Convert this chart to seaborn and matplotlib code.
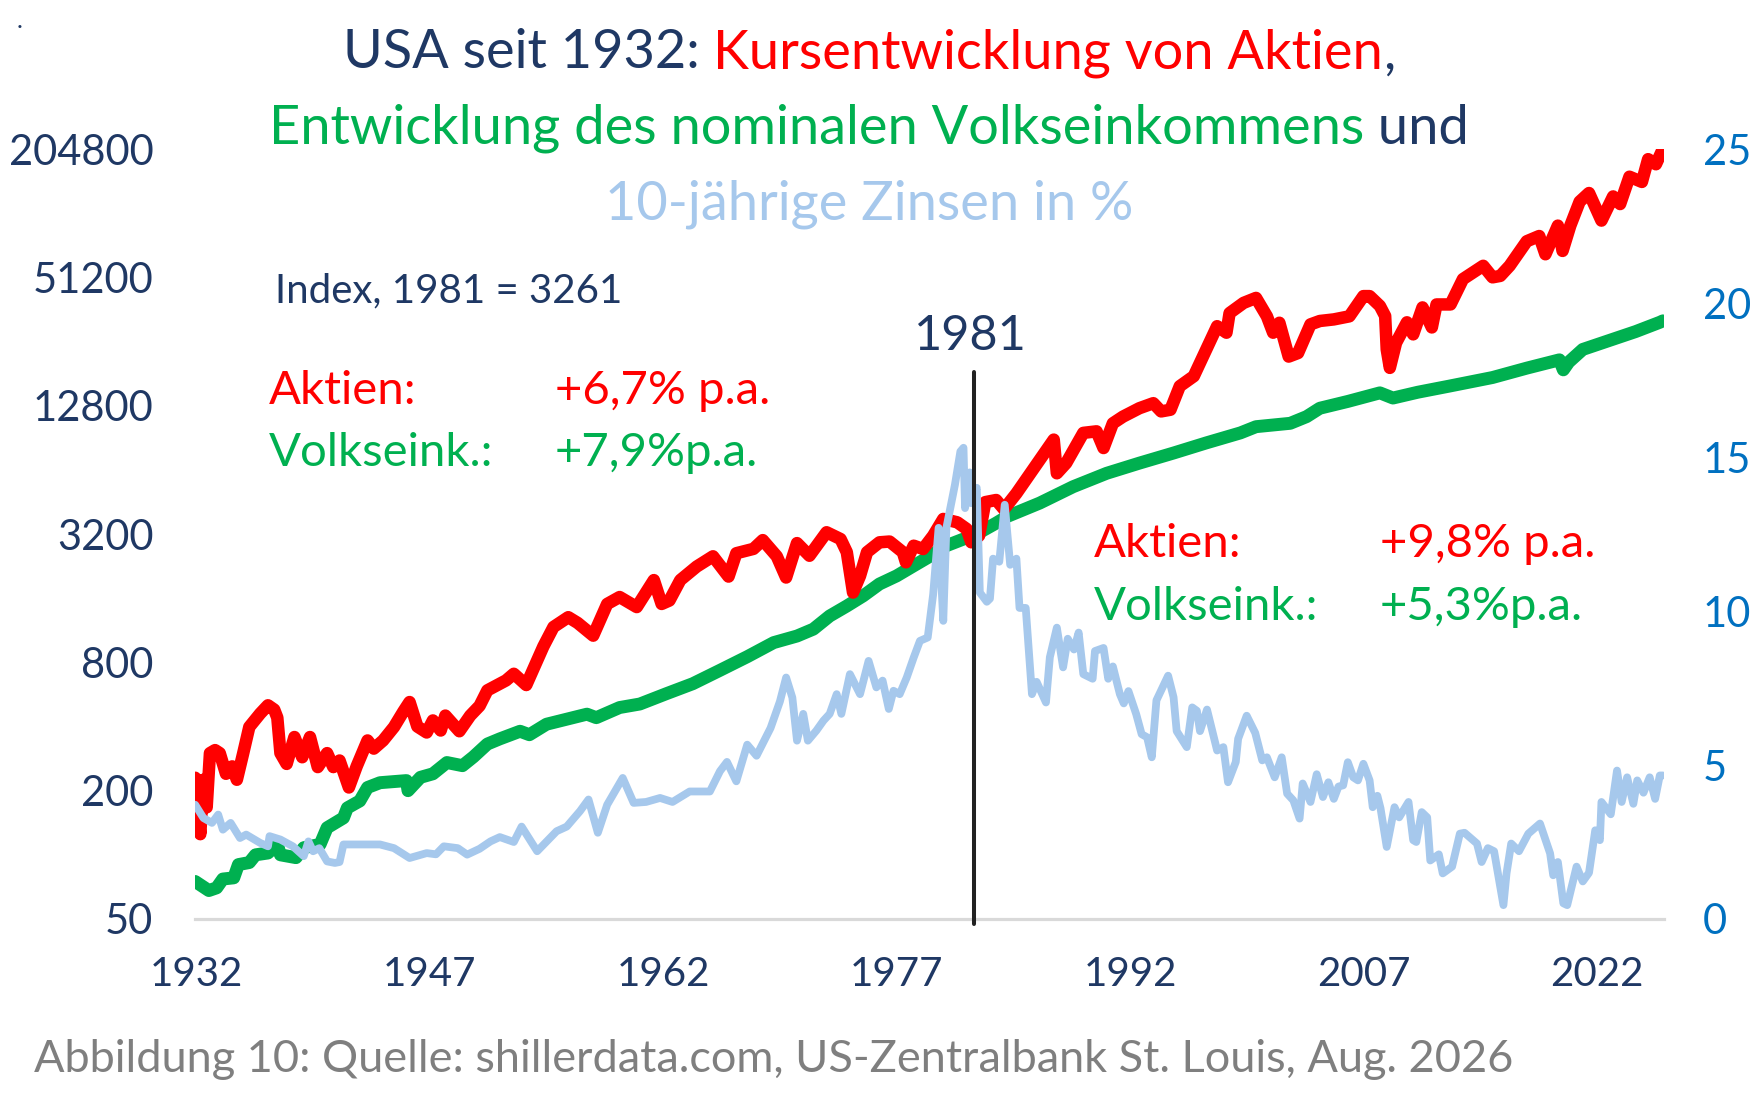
import matplotlib
matplotlib.use("Agg")
import matplotlib.pyplot as plt
import seaborn as sns
import pandas as pd

# ---------------- data ----------------
stock_years = [1931.92, 1932.05, 1932.25, 1932.45, 1932.66, 1932.87, 1933.2, 1933.5, 1933.9, 1934.3,
               1934.6, 1935.0, 1935.4, 1936.1, 1936.6, 1937.0, 1937.2, 1937.4, 1937.8, 1938.3,
               1938.8, 1939.3, 1939.8, 1940.4, 1940.8, 1941.2, 1941.8, 1942.3, 1943.0, 1943.4,
               1944.0, 1944.7, 1945.3, 1945.7, 1946.2, 1946.8, 1947.2, 1947.7, 1948.0, 1948.9,
               1949.6, 1950.2, 1950.7, 1951.9, 1952.4, 1953.2, 1954.3, 1954.95, 1955.9, 1956.5,
               1957.5, 1958.4, 1959.2, 1960.3, 1961.4, 1961.9, 1962.4, 1963.1, 1964.15, 1965.2,
               1966.2, 1966.7, 1967.8, 1968.4, 1969.3, 1969.9, 1970.6, 1971.4, 1972.5, 1973.4,
               1973.8, 1974.2, 1974.65, 1975.1, 1975.9, 1976.55, 1977.4, 1977.6, 1978.1, 1978.7,
               1979.35, 1980.0, 1980.9, 1981.5, 1981.8, 1982.3, 1982.7, 1983.4, 1983.9, 1984.7,
               1985.6, 1986.2, 1987.1, 1987.3, 1987.9, 1989.0, 1989.85, 1990.3, 1990.9, 1991.55,
               1992.6, 1993.5, 1994.0, 1994.6, 1995.2, 1996.1, 1996.9, 1997.6, 1998.2, 1998.4,
               1999.3, 2000.1, 2000.8, 2001.2, 2001.6, 2002.2, 2002.8, 2003.6, 2004.2, 2005.1,
               2006.1, 2007.0, 2007.4, 2008.06, 2008.4, 2008.5, 2008.7, 2009.1, 2009.8, 2010.2,
               2010.8, 2011.4, 2011.7, 2012.6, 2013.4, 2014.7, 2015.3, 2015.8, 2016.4, 2017.5,
               2018.3, 2018.7, 2019.5, 2019.8, 2020.3, 2020.9, 2021.5, 2022.3, 2023.05, 2023.5,
               2024.1, 2024.9, 2025.3, 2025.8, 2026.25]
stock_values = [230, 175, 125, 225, 167, 300, 310, 300, 240, 260,
                225, 298, 398, 460, 503, 480, 440, 300, 267, 357,
                287, 357, 258, 300, 258, 277, 207, 260, 344, 315,
                344, 398, 470, 521, 400, 375, 427, 383, 450, 380,
                450, 500, 591, 658, 707, 626, 950, 1172, 1303, 1225,
                1067, 1503, 1620, 1453, 1945, 1503, 1560, 1945, 2250, 2515,
                2020, 2600, 2725, 2995, 2515, 2000, 2900, 2530, 3261, 3030,
                2630, 1700, 2035, 2630, 2925, 2950, 2630, 2357, 2820, 2720,
                3140, 3765, 3630, 3380, 2925, 3140, 4515, 4620, 4180, 4960,
                6165, 7125, 8870, 6165, 6885, 9540, 9700, 8100, 10580, 11370,
                12450, 13150, 12030, 12250, 15800, 17600, 23500, 30200, 28150, 34800,
                38850, 41000, 33600, 28150, 31350, 21750, 22600, 30800, 31950, 32500,
                33600, 41800, 41800, 37600, 33700, 23500, 19250, 25250, 31500, 27650,
                37000, 29800, 38200, 38200, 50250, 58000, 51200, 52000, 58000, 75600,
                80000, 65700, 89500, 68100, 89500, 116000, 127300, 94500, 122700, 113000,
                151800, 143500, 183500, 173700, 205000]

income_years = [1931.92, 1932.8, 1933.3, 1933.7, 1934.4, 1934.7, 1935.4, 1935.8, 1936.6, 1937.2,
                1937.4, 1938.4, 1938.9, 1939.95, 1940.4, 1941.45, 1941.7, 1942.5, 1943.0, 1943.8,
                1945.5, 1945.6, 1946.4, 1947.2, 1948.1, 1949.1, 1949.8, 1950.7, 1951.5, 1952.8,
                1953.4, 1954.5, 1957.1, 1957.7, 1959.2, 1960.5, 1962.2, 1963.9, 1965.65, 1967.4,
                1969.1, 1970.6, 1971.65, 1972.7, 1973.8, 1974.85, 1975.9, 1977.0, 1978.1, 1979.2,
                1980.2, 1981.3, 1982.35, 1983.4, 1984.1, 1986.2, 1988.35, 1990.5, 1992.6, 1994.8,
                1996.9, 1999.1, 2000.1, 2002.3, 2003.35, 2004.2, 2006.0, 2008.06, 2008.9, 2010.5,
                2012.5, 2015.3, 2017.5, 2019.6, 2019.85, 2020.2, 2021.1, 2023.05, 2024.5, 2026.05,
                2026.25]
income_values = [75, 68, 70, 77, 78, 90, 92, 100, 102, 112,
                 100, 97, 108, 112, 134, 149, 166, 179, 207, 218,
                 223, 200, 231, 240, 271, 262, 288, 331, 350, 380,
                 366, 410, 457, 440, 491, 510, 570, 635, 734, 850,
                 990, 1063, 1145, 1320, 1470, 1640, 1865, 2035, 2270, 2530,
                 2820, 3030, 3261, 3600, 3865, 4470, 5335, 6165, 6880, 7675,
                 8560, 9540, 10200, 10580, 11370, 12450, 13400, 14700, 13900, 14800,
                 15800, 17350, 19200, 21000, 18850, 20500, 23500, 26250, 28500, 31500,
                 32000]

rate_years = [1931.92, 1932.45, 1933.0, 1933.4, 1933.7, 1934.2, 1934.8, 1935.2, 1936.1, 1936.6,
              1936.7, 1937.4, 1938.2, 1938.9, 1939.2, 1939.5, 1939.9, 1940.4, 1940.9, 1941.2,
              1941.45, 1942.1, 1943.8, 1944.7, 1945.7, 1946.8, 1947.4, 1947.9, 1948.8, 1949.4,
              1950.2, 1950.9, 1951.5, 1952.4, 1952.9, 1953.9, 1955.15, 1955.8, 1956.65, 1957.2,
              1957.8, 1958.4, 1959.4, 1960.1, 1960.9, 1961.8, 1962.6, 1963.7, 1965.0, 1965.65,
              1966.1, 1966.7, 1967.4, 1968.0, 1968.9, 1969.5, 1969.9, 1970.3, 1970.6, 1971.0,
              1971.3, 1971.85, 1972.3, 1972.7, 1973.15, 1973.45, 1974.0, 1974.65, 1975.2, 1975.7,
              1976.1, 1976.5, 1976.8, 1977.2, 1977.65, 1978.1, 1978.5, 1979.0, 1979.35, 1979.7,
              1980.0, 1980.2, 1980.75, 1981.1, 1981.3, 1981.4, 1981.7, 1981.8, 1982.15, 1982.35,
              1982.8, 1983.0, 1983.2, 1983.6, 1983.95, 1984.3, 1984.7, 1984.9, 1985.3, 1985.7,
              1986.0, 1986.6, 1986.85, 1987.3, 1987.7, 1988.0, 1988.4, 1988.7, 1989.0, 1989.6,
              1989.75, 1990.3, 1990.6, 1990.9, 1991.35, 1991.6, 1991.9, 1992.4, 1992.75, 1993.1,
              1993.4, 1993.7, 1994.45, 1994.8, 1995.0, 1995.65, 1996.0, 1996.3, 1996.5, 1996.95,
              1997.6, 1998.0, 1998.3, 1998.8, 1998.95, 1999.5, 2000.05, 2000.5, 2000.8, 2001.3,
              2001.75, 2002.1, 2002.5, 2002.9, 2003.1, 2003.6, 2004.0, 2004.4, 2004.75, 2005.1,
              2005.4, 2005.7, 2006.0, 2006.35, 2006.65, 2007.0, 2007.4, 2007.6, 2007.9, 2008.1,
              2008.5, 2009.0, 2009.3, 2009.9, 2010.2, 2010.4, 2010.75, 2011.1, 2011.3, 2011.85,
              2012.1, 2012.7, 2013.2, 2013.5, 2014.3, 2014.6, 2015.0, 2015.4, 2016.0, 2016.2,
              2016.5, 2017.0, 2017.6, 2018.35, 2019.0, 2019.2, 2019.5, 2019.85, 2020.1, 2020.7,
              2021.1, 2021.5, 2021.9, 2022.2, 2022.3, 2022.9, 2023.3, 2023.6, 2023.95, 2024.35,
              2024.6, 2025.0, 2025.4, 2025.75, 2026.05, 2026.25]
rate_values = [3.71, 3.28, 3.12, 3.39, 2.90, 3.12, 2.63, 2.74, 2.47, 2.36,
               2.69, 2.58, 2.36, 2.04, 2.52, 2.20, 2.30, 1.87, 1.82, 1.85,
               2.42, 2.42, 2.42, 2.30, 1.98, 2.14, 2.10, 2.36, 2.30, 2.09,
               2.28, 2.52, 2.66, 2.50, 3.00, 2.20, 2.85, 3.00, 3.50, 3.88,
               2.80, 3.71, 4.58, 3.77, 3.80, 3.93, 3.80, 4.14, 4.14, 4.80,
               5.10, 4.47, 5.66, 5.30, 6.20, 7.06, 7.84, 7.19, 5.79, 6.66,
               5.79, 6.12, 6.44, 6.66, 7.30, 6.66, 7.95, 7.30, 8.38, 7.52,
               7.74, 6.82, 7.41, 7.30, 7.84, 8.49, 9.03, 9.14, 10.54, 12.70,
               9.68, 12.70, 14.10, 15.18, 15.30, 13.34, 14.50, 13.50, 14.00, 10.60,
               10.30, 10.40, 11.70, 11.60, 13.45, 11.50, 11.70, 10.10, 10.10, 7.30,
               7.70, 7.03, 8.50, 9.46, 8.17, 9.10, 8.75, 9.30, 7.95, 7.80,
               8.70, 8.80, 7.80, 8.20, 7.30, 7.00, 7.40, 6.65, 6.00, 5.90,
               5.25, 7.10, 7.90, 7.20, 6.10, 5.58, 6.87, 6.76, 6.10, 6.80,
               5.47, 5.58, 4.44, 5.10, 5.85, 6.60, 6.04, 5.15, 5.25, 4.60,
               5.25, 4.07, 3.85, 3.26, 4.40, 3.80, 4.70, 3.96, 4.44, 3.90,
               4.30, 4.34, 5.09, 4.60, 4.50, 5.04, 4.50, 3.63, 4.00, 3.60,
               2.34, 3.63, 3.30, 3.80, 2.56, 2.50, 3.47, 3.30, 1.90, 2.10,
               1.48, 1.70, 2.77, 2.80, 2.45, 1.85, 2.30, 2.20, 0.45, 1.48,
               2.45, 2.20, 2.77, 3.10, 2.13, 1.42, 1.85, 0.51, 0.45, 1.70,
               1.22, 1.50, 2.88, 2.56, 3.80, 3.40, 4.82, 3.80, 4.60, 3.74,
               4.50, 4.10, 4.60, 3.90, 4.66, 4.66]

left_ticks = [50, 200, 800, 3200, 12800, 51200, 204800]
left_tick_labels = ["50", "200", "800", "3200", "12800", "51200", "204800"]
right_ticks = [0, 5, 10, 15, 20, 25]
right_tick_labels = ["0", "5", "10", "15", "20", "25"]
year_ticks = [1932, 1947, 1962, 1977, 1992, 2007, 2022]
year_tick_labels = ["1932", "1947", "1962", "1977", "1992", "2007", "2022"]
marker_year = 1982.0

stocks = pd.DataFrame({"Jahr": stock_years, "Wert": stock_values})
income = pd.DataFrame({"Jahr": income_years, "Wert": income_values})
rates = pd.DataFrame({"Jahr": rate_years, "Zins": rate_values})

# ---------------- styling ----------------
FONT = ["Lato", "DejaVu Sans"]
NAVY = "#1F3864"
RED = "#FF0000"
GREEN = "#00B050"
LBLUE = "#A6C8EC"
BLUE = "#0070C0"
GREY = "#7F7F7F"

sns.set_theme(style="white")
plt.rcParams["font.family"] = FONT

W, H = 1759, 1119
fig = plt.figure(figsize=(W / 100, H / 100), dpi=100)
fig.patch.set_facecolor("white")

ax = fig.add_axes([195 / W, 1 - 919 / H, (1664 - 195) / W, 770 / H])
ax.set_facecolor("none")

sns.lineplot(data=income, x="Jahr", y="Wert", ax=ax, color=GREEN, linewidth=9.3,
             estimator=None, sort=False, solid_capstyle="round", solid_joinstyle="round")
sns.lineplot(data=stocks, x="Jahr", y="Wert", ax=ax, color=RED, linewidth=9.0,
             estimator=None, sort=False, solid_capstyle="round", solid_joinstyle="round")

ax.set_yscale("log", base=2)
ax.set_ylim(50, 204800)
ax.set_xlim(1931.91, 2026.32)
ax.set_yticks(left_ticks)
ax.set_yticklabels(left_tick_labels)
ax.minorticks_off()
ax.set_xticks(year_ticks)
ax.set_xticklabels(year_tick_labels)
ax.set_xlabel("")
ax.set_ylabel("")
ax.tick_params(axis="y", length=0, pad=30, labelsize=30, labelcolor=NAVY)
ax.tick_params(axis="x", length=0, pad=27, labelsize=29, labelcolor=NAVY)
for s in ["top", "right", "left"]:
    ax.spines[s].set_visible(False)
ax.spines["bottom"].set_color("#D9D9D9")
ax.spines["bottom"].set_linewidth(2.3)
ax.grid(False)

ax2 = ax.twinx()
sns.lineplot(data=rates, x="Jahr", y="Zins", ax=ax2, color=LBLUE, linewidth=5.6,
             estimator=None, sort=False, solid_capstyle="round", solid_joinstyle="round")
ax2.set_ylim(0, 25)
ax2.set_xlim(1931.91, 2026.32)
ax2.set_yticks(right_ticks)
ax2.set_yticklabels(right_tick_labels)
ax2.minorticks_off()
ax2.set_ylabel("")
ax2.tick_params(axis="y", length=0, pad=28, labelsize=30, labelcolor=BLUE)
for s in ax2.spines.values():
    s.set_visible(False)
ax2.grid(False)

# vertical marker line
ax2.axvline(marker_year, ymin=-0.006, ymax=(919 - 372) / 770, color="#222222",
            linewidth=2.9, clip_on=False, zorder=10)

# ---------------- texts ----------------
renderer = fig.canvas.get_renderer()


def rich_line(y_px, parts, size, xc_px):
    texts = []
    for s, c in parts:
        t = fig.text(0, 1 - y_px / H, s, color=c, fontsize=size, ha="left", va="center",
                     family=FONT)
        texts.append(t)
    widths = [t.get_window_extent(renderer).width for t in texts]
    x = xc_px - sum(widths) / 2
    for t, w in zip(texts, widths):
        t.set_x(x / W)
        x += w


TS = 39
rich_line(53, [("USA seit 1932: ", NAVY), ("Kursentwicklung von Aktien", RED), (",", NAVY)], TS, 869)
rich_line(128, [("Entwicklung des nominalen Volkseinkommens", GREEN), (" und", NAVY)], TS, 869)
rich_line(204, [("10-jährige Zinsen in %", LBLUE)], TS, 869)


def ftext(x_px, y_px, s, color, size, ha="left"):
    fig.text(x_px / W, 1 - y_px / H, s, color=color, fontsize=size, ha=ha, va="center",
             family=FONT)


ftext(17, 20, ".", NAVY, 18)
ftext(275, 291, "Index, 1981 = 3261", NAVY, 29)
ftext(970, 336, "1981", NAVY, 35, ha="center")

AS = 34
ftext(269, 391, "Aktien:", RED, AS)
ftext(555, 391, "+6,7% p.a.", RED, AS)
ftext(269, 453, "Volkseink.:", GREEN, AS)
ftext(555, 453, "+7,9%p.a.", GREEN, AS)
ftext(1094, 544, "Aktien:", RED, AS)
ftext(1380, 544, "+9,8% p.a.", RED, AS)
ftext(1094, 607, "Volkseink.:", GREEN, AS)
ftext(1380, 607, "+5,3%p.a.", GREEN, AS)

ftext(34, 1060, "Abbildung 10: Quelle: shillerdata.com, US-Zentralbank St. Louis, Aug. 2026", GREY, 32.5)

fig.savefig("out.png", dpi=100, facecolor="white")
